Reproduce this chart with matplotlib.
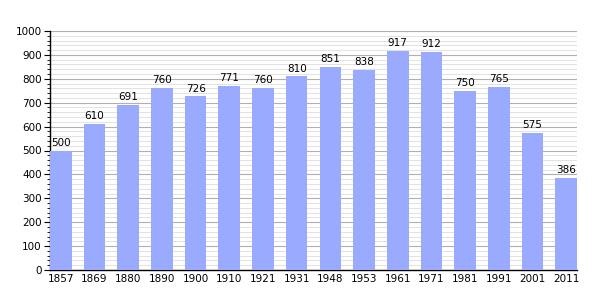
import numpy as np
import matplotlib.pyplot as plt
from matplotlib.ticker import MultipleLocator

years = ['1857', '1869', '1880', '1890', '1900', '1910', '1921', '1931',
         '1948', '1953', '1961', '1971', '1981', '1991', '2001', '2011']
population = [500, 610, 691, 760, 726, 771, 760, 810,
              851, 838, 917, 912, 750, 765, 575, 386]

fig = plt.figure(figsize=(6.05, 3.0), dpi=100)
ax = fig.add_axes([50 / 605, 30 / 300, 527 / 605, 239 / 300])

x = np.arange(len(years))
w = 0.64
ax.bar(x, population, width=w, color='#99aaff', zorder=3)

for xi, v in zip(x, population):
    ax.text(xi, v + 12, str(v), ha='center', va='bottom', fontsize=7.5, zorder=4)

ax.set_xlim(-w / 2, len(years) - 1 + w / 2)
ax.set_ylim(0, 1000)
ax.set_xticks(x)
ax.set_xticklabels(years, fontsize=7.5)
ax.tick_params(axis='x', length=0, pad=3)

ax.yaxis.set_major_locator(MultipleLocator(100))
ax.yaxis.set_minor_locator(MultipleLocator(20))
ax.tick_params(axis='y', which='major', length=4, width=0.8, labelsize=7.5, pad=2)
ax.tick_params(axis='y', which='minor', length=2, width=0.6)

ax.grid(axis='y', which='major', color='#b0b0b0', linewidth=0.8, zorder=0)
ax.grid(axis='y', which='minor', color='#dddddd', linewidth=0.6, zorder=0)

ax.spines['top'].set_visible(False)
ax.spines['right'].set_visible(False)
ax.spines['left'].set_linewidth(1.0)
ax.spines['bottom'].set_linewidth(1.0)

fig.savefig('out.png', dpi=100)
